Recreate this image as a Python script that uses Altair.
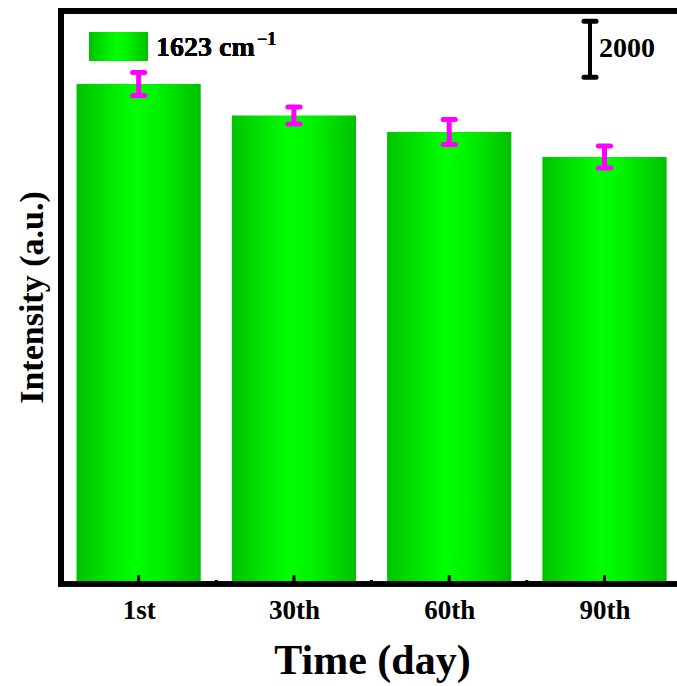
import json
import altair as alt
import pandas as pd

# ---- data ----
categories = ["1st", "30th", "60th", "90th"]
intensity = [17857, 16732, 16143, 15250]
errors = [411, 304, 446, 393]
legend_label = "1623 cm"
legend_sup = "\u22121"
scale_bar_base = 18100
scale_bar_len = 2000

FONT = "Liberation Serif"
W, H = 616, 573
Y_MAX = 20464
X_DOM = [0.5, 4.467]

df = pd.DataFrame({
    "cat": categories,
    "idx": list(range(1, len(categories) + 1)),
    "val": intensity,
    "err": errors,
})
df["x0"] = df["idx"] - 0.4
df["x1"] = df["idx"] + 0.4
df["lo"] = df["val"] - df["err"]
df["hi"] = df["val"] + df["err"]
df["c0"] = df["idx"] - 0.039
df["c1"] = df["idx"] + 0.039
minor_df = pd.DataFrame({"mid": [i + 0.5 for i in range(1, len(categories))]})
sb_df = pd.DataFrame({"b": [scale_bar_base], "t": [scale_bar_base + scale_bar_len],
                      "m": [scale_bar_base + scale_bar_len / 2], "lab": [str(scale_bar_len)]})

grad = alt.Gradient(
    gradient="linear",
    stops=[alt.GradientStop(color="#00c200", offset=0),
           alt.GradientStop(color="#00e400", offset=0.25),
           alt.GradientStop(color="#00ff00", offset=0.47),
           alt.GradientStop(color="#00f200", offset=0.65),
           alt.GradientStop(color="#00c000", offset=1)],
    x1=0, x2=1, y1=0, y2=0,
)

label_expr = json.dumps(categories) + "[datum.value - 1]"

xscale = alt.Scale(domain=X_DOM, nice=False, zero=False)
yscale = alt.Scale(domain=[0, Y_MAX], nice=False, zero=True)

x_axis = alt.Axis(
    values=list(df["idx"]), labelExpr=label_expr, title="Time (day)",
    domain=False, ticks=False, tickSize=0, grid=False,
    labelFont=FONT, labelFontWeight="bold", labelFontSize=27, labelColor="black",
    labelPadding=13, titleFont=FONT, titleFontWeight="bold", titleFontSize=42,
    titleColor="black", titleBaseline="alphabetic", titleY=89, titleX=311,
    titleAlign="center",
)
y_axis = alt.Axis(
    title="Intensity (a.u.)", labels=False, ticks=False, domain=False, grid=False,
    titleFont=FONT, titleFontWeight="bold", titleFontSize=34, titleColor="black",
    titleBaseline="alphabetic", titleX=-19, titleY=286, titleAlign="center", titleAngle=270,
)

base = alt.Chart(df)

bars = base.mark_bar(color=grad).encode(
    x=alt.X("x0:Q", scale=xscale, axis=x_axis),
    x2="x1:Q",
    y=alt.Y("val:Q", scale=yscale, axis=y_axis),
    y2=alt.datum(0),
)

err_line = base.mark_rule(color="#ff00ff", strokeWidth=5).encode(
    x="idx:Q", y="lo:Q", y2="hi:Q")
cap_lo = base.mark_rule(color="#ff00ff", strokeWidth=5, strokeCap="round").encode(
    x="c0:Q", x2="c1:Q", y="lo:Q")
cap_hi = base.mark_rule(color="#ff00ff", strokeWidth=5, strokeCap="round").encode(
    x="c0:Q", x2="c1:Q", y="hi:Q")

major_ticks = base.mark_rule(color="black", strokeWidth=3).encode(
    x="idx:Q", y=alt.value(H - 9), y2=alt.value(H))
minor_ticks = alt.Chart(minor_df).mark_rule(color="black", strokeWidth=3).encode(
    x="mid:Q", y=alt.value(H - 4), y2=alt.value(H))

frame_top = base.mark_rule(color="black", strokeWidth=6).encode(
    x=alt.value(-3), x2=alt.value(W), y=alt.value(0))
frame_left = base.mark_rule(color="black", strokeWidth=6).encode(
    x=alt.value(0), y=alt.value(-3), y2=alt.value(H + 3))
frame_bottom = base.mark_rule(color="black", strokeWidth=5).encode(
    x=alt.value(-3), x2=alt.value(W), y=alt.value(H))

sb = alt.Chart(sb_df)
sb_line = sb.mark_rule(color="black", strokeWidth=4).encode(
    x=alt.value(529), y="b:Q", y2="t:Q")
sb_cap_b = sb.mark_rule(color="black", strokeWidth=5, strokeCap="round").encode(
    x=alt.value(523), x2=alt.value(535), y="b:Q")
sb_cap_t = sb.mark_rule(color="black", strokeWidth=5, strokeCap="round").encode(
    x=alt.value(523), x2=alt.value(535), y="t:Q")
sb_text = sb.mark_text(font=FONT, fontWeight="bold", fontSize=28, align="left",
                       baseline="middle", color="black").encode(
    x=alt.value(538), y="m:Q", text="lab:N")

leg_rect = base.mark_rect(color=grad).encode(
    x=alt.value(28), x2=alt.value(87), y=alt.value(21), y2=alt.value(50))
leg_text = base.mark_text(text=legend_label, font=FONT, fontWeight="bold", fontSize=28,
                          align="left", baseline="alphabetic", color="black").encode(
    x=alt.value(95), y=alt.value(45))
leg_sup = base.mark_text(text=legend_sup, font=FONT, fontWeight="bold", fontSize=18,
                         align="left", baseline="alphabetic", color="black").encode(
    x=alt.value(196), y=alt.value(34))

chart = alt.layer(
    bars, err_line, cap_lo, cap_hi, major_ticks, minor_ticks,
    frame_top, frame_left, frame_bottom,
    sb_line, sb_cap_b, sb_cap_t, sb_text, leg_rect, leg_text, leg_sup,
).properties(
    width=W, height=H,
    autosize=alt.AutoSizeParams(type="none"),
    padding={"left": 61, "top": 11, "right": 0, "bottom": 101},
).configure_view(stroke=None).configure(background="white")

chart.save("out.html", embed_options={"renderer": "svg", "actions": False})
